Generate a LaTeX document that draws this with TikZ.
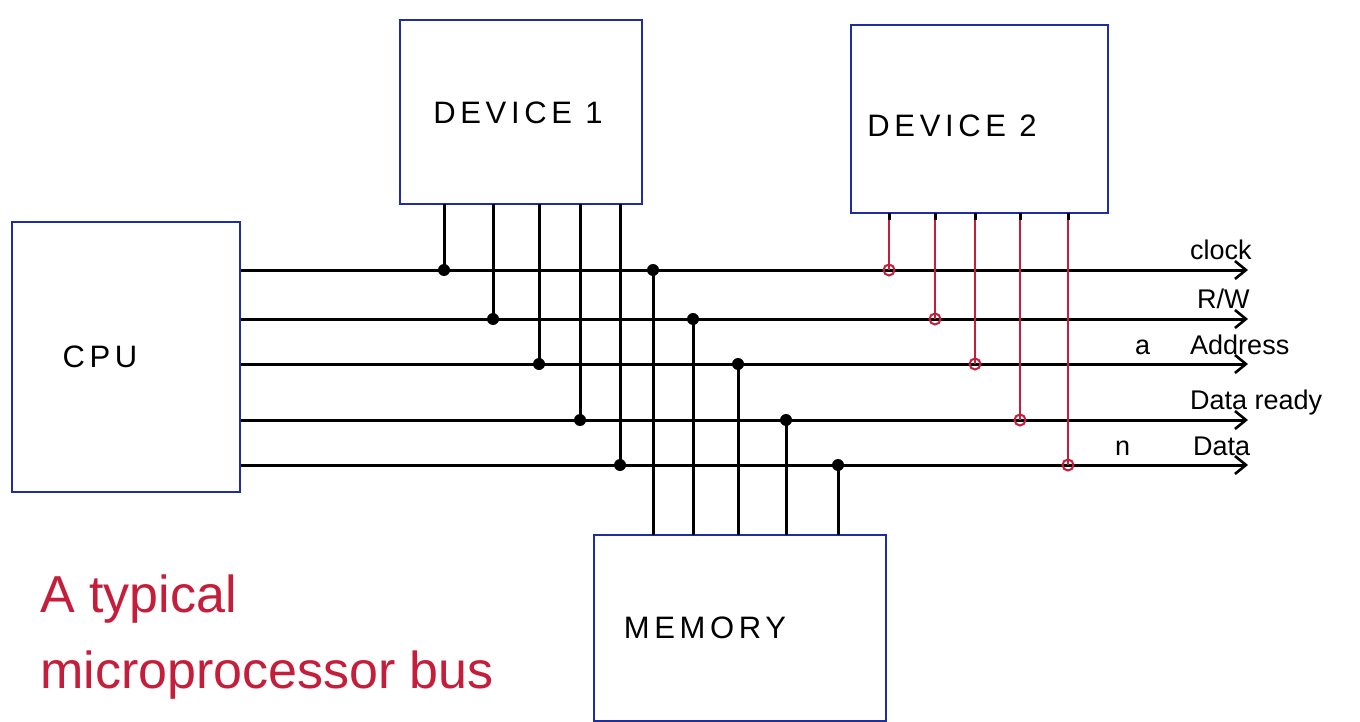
\documentclass[tikz,border=0pt]{standalone}
\usepackage{fontspec}
\setmainfont{Liberation Sans}
\newfontfamily\boxfont[LetterSpace=15]{Liberation Sans}
\usetikzlibrary{arrows.meta}
\definecolor{penblue}{HTML}{1F2E9E}
\definecolor{penred}{HTML}{C41E3A}
\begin{document}
\begin{tikzpicture}[x=1pt,y=-1pt,
  unit/.style={draw=penblue, line width=2.6pt, inner sep=0pt},
  boxtext/.style={font=\boxfont\fontsize{31}{33}\selectfont, inner sep=0pt},
  bus/.style={line width=3pt, -{Straight Barb[length=11pt,width=18pt,line width=2.6pt]}},
  tap/.style={line width=3pt},
  redtap/.style={line width=2.2pt, draw=penred},
  jdot/.style={fill=black},
  rdot/.style={draw=penred, line width=2pt},
  buslabel/.style={font=\fontsize{27}{29}\selectfont, anchor=base west, inner sep=0pt},
  caption/.style={font=\fontsize{52}{56}\selectfont, text=penred, anchor=base west, inner sep=0pt}]
\useasboundingbox (0,0) rectangle (1360,722);
\fill[white] (0,0) rectangle (1360,722);

% units
\node[unit, minimum width=242pt, minimum height=184pt] (dev1) at (521,112) {};
\node[unit, minimum width=257pt, minimum height=188pt] (dev2) at (979.5,119) {};
\node[unit, minimum width=228pt, minimum height=270pt] (cpu) at (126,357) {};
\node[unit, minimum width=292pt, minimum height=186pt] (mem) at (740,628) {};

\node[boxtext] (dev1t) at (518,113) {DEVICE 1};
\node[boxtext] (dev2t) at (952,126) {DEVICE 2};
\node[boxtext] (cput) at (100,357) {CPU};
\node[boxtext] (memt) at (705,628) {MEMORY};

% bus lines
\foreach \y/\n in {270/clk, 319/rw, 364/adr, 420/rdy, 465/dat} {
  \coordinate (\n S) at (cpu.east |- 0,\y);
  \coordinate (\n E) at (1248,\y);
  \draw[bus] (\n S) -- (\n E);
}

% device 1 taps
\foreach \x/\y/\n in {444/270/1, 493/319/2, 539/364/3, 580/420/4, 620/465/5} {
  \coordinate (da\n) at (\x,204);
  \coordinate (dj\n) at (\x,\y);
  \draw[tap] (da\n) -- (dj\n);
  \fill[jdot] (dj\n) circle[radius=6pt];
}

% memory taps
\foreach \x/\y/\n in {653/270/1, 693/319/2, 738/364/3, 786/420/4, 838/465/5} {
  \coordinate (ma\n) at (\x,535);
  \coordinate (mj\n) at (\x,\y);
  \draw[tap] (ma\n) -- (mj\n);
  \fill[jdot] (mj\n) circle[radius=6pt];
}

% device 2 taps
\foreach \x/\y/\n in {889/270/1, 935/319/2, 975/364/3, 1020/420/4, 1068/465/5} {
  \coordinate (ea\n) at (\x,213);
  \coordinate (ej\n) at (\x,\y);
  \draw[redtap] (ea\n) -- (ej\n);
  \draw[line width=3pt] (ea\n) -- ++(0,7);
  \draw[rdot] (ej\n) circle[radius=5.5pt];
}

% bus labels
\node[buslabel] (lclk) at (1190,259) {clock};
\node[buslabel] (lrw) at (1197,308) {R/W};
\node[buslabel] (la) at (1135,354) {a};
\node[buslabel] (ladr) at (1190,354) {Address};
\node[buslabel] (lrdy) at (1190,409) {Data ready};
\node[buslabel] (ln) at (1115,455) {n};
\node[buslabel] (ldat) at (1193,455) {Data};

% caption
\node[caption] (cap1) at (40,612) {A typical};
\node[caption] (cap2) at (40,688) {microprocessor bus};
\end{tikzpicture}
\end{document}
